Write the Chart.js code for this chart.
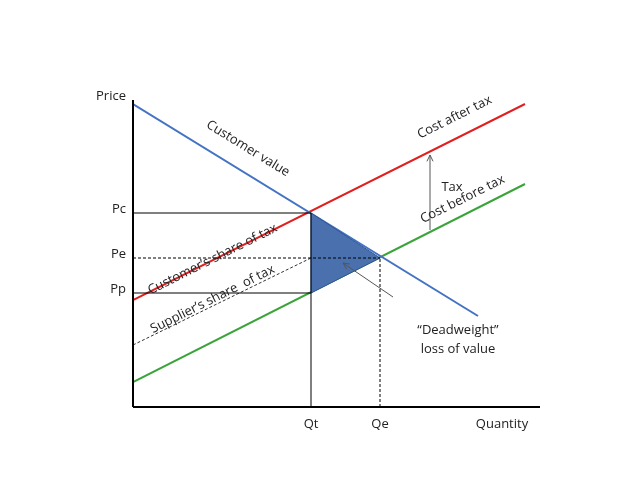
<!DOCTYPE html><html><head><script src="https://cdn.jsdelivr.net/npm/chart.js"></script>
<style>body{margin:0;background:#fff}#w{width:640px;height:481px}</style></head><body><div id="w"><canvas id="c"></canvas></div>
<script>
const customerValue=[{x:0,y:303},{x:345,y:91}];
const costAfterTax=[{x:0,y:107},{x:392,y:303}];
const costBeforeTax=[{x:0,y:25},{x:392,y:223}];
const supplierShare=[{x:0,y:62},{x:178,y:149}];
const deadweight=[{x:178,y:194},{x:247,y:149},{x:178,y:114},{x:178,y:194}];
const priceTicks={Pc:194,Pe:149,Pp:114};
const qtyTicks={Qt:178,Qe:247};
const F='"Open Sans", "Liberation Sans", sans-serif';
const L=(d,c,extra)=>Object.assign({data:d,borderColor:c,borderWidth:2,pointRadius:0,showLine:true,fill:false},extra||{});
const plug={id:'p',afterDatasetsDraw(ch){
 const c=ch.ctx,X=ch.scales.x,Y=ch.scales.y,px=v=>X.getPixelForValue(v),py=v=>Y.getPixelForValue(v);
 c.save();c.strokeStyle='#000';c.lineWidth=1;
 const ln=(a,b,d,e,dash)=>{c.setLineDash(dash||[]);c.beginPath();c.moveTo(a,b);c.lineTo(d,e);c.stroke();};
 ln(px(0),py(priceTicks.Pc),px(qtyTicks.Qt),py(priceTicks.Pc));
 ln(px(0),py(priceTicks.Pp),px(qtyTicks.Qt),py(priceTicks.Pp));
 ln(px(qtyTicks.Qt),py(0),px(qtyTicks.Qt),py(priceTicks.Pc));
 ln(px(0),py(priceTicks.Pe),px(qtyTicks.Qe),py(priceTicks.Pe),[3,2]);
 ln(px(qtyTicks.Qe),py(0),px(qtyTicks.Qe),py(priceTicks.Pe),[3,2]);
 c.setLineDash([]);c.lineWidth=2;
 ln(px(0),py(0),px(407),py(0));ln(px(0),py(0),px(0),py(307));
 c.lineWidth=1;c.strokeStyle='#555';
 const arrow=(a,b,d,e)=>{ln(a,b,d,e);const t=Math.atan2(e-b,d-a);c.beginPath();c.moveTo(d-7*Math.cos(t-0.45),e-7*Math.sin(t-0.45));c.lineTo(d,e);c.lineTo(d-7*Math.cos(t+0.45),e-7*Math.sin(t+0.45));c.stroke();};
 arrow(px(297),py(177),px(297),py(252));
 arrow(px(260),py(110),px(210),py(144));
 c.fillStyle='#222';c.font='13px '+F;c.textBaseline='middle';
 c.textAlign='left';c.fillText('Price',96,96);
 c.textAlign='right';
 for(const k in priceTicks)c.fillText(k,126,py(priceTicks[k])-4);
 c.textAlign='center';
 for(const k in qtyTicks)c.fillText(k,px(qtyTicks[k]),424);
 c.fillText('Quantity',502,424);
 c.fillText('Tax',452,187);
 c.fillText('\u201cDeadweight\u201d',458,330);c.fillText('loss of value',458,349);
 c.textBaseline='bottom';
 const rot=(t,x,y,a)=>{c.save();c.translate(x,y);c.rotate(a*Math.PI/180);c.fillText(t,0,-1);c.restore();};
 rot('Customer value',244,155,31.6);
 rot('Cost after tax',458,124,-26.6);
 rot('Cost before tax',466,206,-26.6);
 rot('Customer\u2019s share of tax',216,266,-26.6);
 rot('Supplier\u2019s share  of tax',216,306,-26.6);
 c.restore();}};
new Chart(document.getElementById('c'),{type:'scatter',data:{datasets:[
 L(deadweight,'#2f5597',{fill:'shape',backgroundColor:'#4a70ae',borderWidth:1}),
 L(customerValue,'#4472c4'),L(costAfterTax,'#e02020'),L(costBeforeTax,'#3aa33a'),
 L(supplierShare,'#333',{borderWidth:1,borderDash:[3,2]})]},
 options:{responsive:true,maintainAspectRatio:false,animation:false,layout:{padding:{left:133,top:100,right:100,bottom:74}},
 plugins:{legend:{display:false},tooltip:{enabled:false},filler:{propagate:false}},
 scales:{x:{type:'linear',min:0,max:407,display:false},y:{min:0,max:307,display:false}}},plugins:[plug]});
</script></body></html>
